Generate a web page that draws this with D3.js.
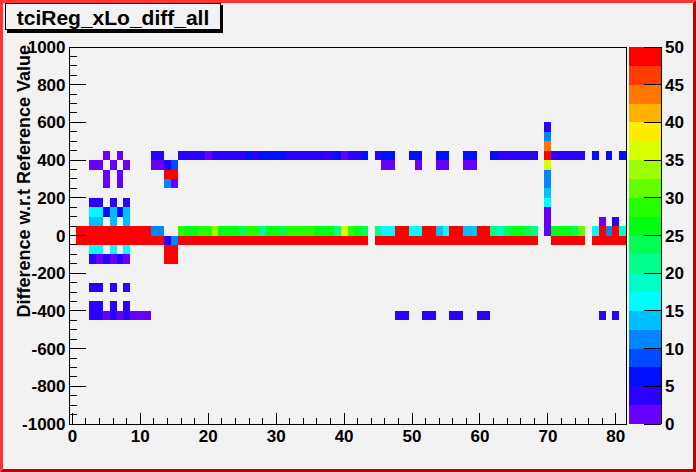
<!DOCTYPE html>
<html lang="en">
<meta charset="UTF-8">
<style>
    body{ margin:0; background:#f2f2f2; }
    text{
        font-family:"Liberation Sans",Arial,Helvetica,sans-serif;
        font-weight:bold;
        fill:#000;
    }
</style>
<body>
<div id="chart"></div>
<script src="https://cdn.jsdelivr.net/npm/d3@7"></script>
<script>
    var width = 696, height = 472;
    var frame = {left:69, right:626, top:47, bottom:424};

    var histTitle = "tciReg_xLo_diff_all";
    var yTitle = "Difference w.r.t Reference Value";

    // x bins are the integers 0..81, y bins are 50 wide
    var xRange = [-0.5, 81.5];
    var yRange = [-1000, 1000];
    var zRange = [0, 50];
    var yBin = 50;
    var xTicks = [0, 10, 20, 30, 40, 50, 60, 70, 80];
    var yTicks = [-1000, -800, -600, -400, -200, 0, 200, 400, 600, 800, 1000];
    var zTicks = [0, 5, 10, 15, 20, 25, 30, 35, 40, 45, 50];

    // [first x bin, last x bin, y bin low edge, content]
    var cells = [
        [70,70,550,4], [70,70,500,11], [70,70,450,44],
        // row 400
        [5,5,400,1], [7,7,400,1], [12,13,400,4], [16,19,400,4], [20,20,400,1],
        [21,25,400,4], [26,26,400,6], [27,27,400,4], [28,31,400,6], [32,38,400,4],
        [39,39,400,6], [40,40,400,1], [41,42,400,4], [43,43,400,6], [45,45,400,4],
        [46,47,400,6], [50,51,400,6], [54,55,400,6], [58,59,400,6], [62,62,400,6],
        [63,68,400,4], [70,70,400,49], [71,75,400,4], [77,77,400,6], [79,79,400,6],
        [81,81,400,6],
        // row 350
        [3,4,350,1], [6,6,350,1], [8,8,350,1], [12,13,350,1], [14,14,350,4],
        [15,15,350,9], [46,47,350,1], [51,51,350,1], [54,55,350,1], [58,59,350,1],
        [70,70,350,37],
        [5,5,300,1], [7,7,300,1], [14,15,300,49], [70,70,300,11],
        [5,5,250,1], [7,7,250,1], [14,14,250,11], [15,15,250,1], [70,70,250,11],
        [70,70,200,14],
        [3,4,150,4], [6,6,150,4], [8,8,150,4], [70,70,150,16],
        [3,4,100,16], [5,5,100,6], [6,6,100,14], [7,7,100,6], [8,8,100,14], [70,70,100,1],
        [3,4,50,14], [6,6,50,14], [8,8,50,14], [70,70,50,1], [78,78,50,1], [80,80,50,4],
        // row 0
        [1,11,0,49], [12,13,0,11], [16,16,0,29], [17,18,0,26], [19,20,0,29],
        [21,21,0,34], [22,24,0,26], [25,25,0,24], [26,27,0,29], [28,28,0,21],
        [29,30,0,26], [31,31,0,24], [32,35,0,29], [36,38,0,26], [39,39,0,21],
        [40,40,0,37], [41,41,0,29], [42,42,0,26], [43,43,0,24], [45,45,0,21],
        [46,47,0,16], [48,49,0,49], [50,51,0,16], [52,53,0,49], [54,54,0,14],
        [55,55,0,16], [56,57,0,49], [58,59,0,14], [60,61,0,49], [62,62,0,21],
        [63,63,0,19], [64,64,0,24], [65,66,0,26], [67,67,0,24], [68,68,0,21],
        [70,70,0,1], [71,73,0,26], [74,74,0,24], [75,75,0,31], [77,77,0,16],
        [78,78,0,49], [79,79,0,11], [80,80,0,49], [81,81,0,19],
        // row -50
        [1,13,-50,49], [14,14,-50,4], [15,15,-50,11], [16,43,-50,49], [45,68,-50,49],
        [71,75,-50,49], [77,81,-50,49],
        [3,4,-100,16], [6,6,-100,16], [8,8,-100,16], [14,15,-100,49],
        [3,3,-150,4], [4,4,-150,1], [5,5,-150,4], [6,6,-150,1], [7,7,-150,4],
        [8,8,-150,1], [14,15,-150,49],
        [3,4,-300,4], [6,6,-300,4], [8,8,-300,4],
        [3,4,-400,4], [6,6,-400,4], [8,8,-400,4],
        [3,4,-450,4], [5,5,-450,1], [6,6,-450,4], [7,7,-450,1], [8,8,-450,4],
        [9,11,-450,1], [48,49,-450,4], [52,53,-450,4], [56,57,-450,4], [60,61,-450,4],
        [78,78,-450,4], [80,80,-450,4]
    ];

    var svg = d3.select("#chart").append("svg")
        .attr("width", width)
        .attr("height", height);

    svg.append("rect")
        .attr("width", width).attr("height", height)
        .attr("fill", "#f2f2f2");

    var x = d3.scaleLinear().domain(xRange).range([frame.left, frame.right]);
    var y = d3.scaleLinear().domain(yRange).range([frame.bottom, frame.top]);

    // 20 contour colours, violet -> red like the ROOT rainbow palette
    var palette = d3.range(20).map(function(i){
        return d3.hsl(264*(1-i/19), 1, 0.5).formatHex();
    });
    var color = d3.scaleQuantize().domain(zRange).range(palette);

    // expand runs into single bins
    var bins = [];
    cells.forEach(function(c){
        for (var k = c[0]; k <= c[1]; k++) bins.push({x:k, y:c[2], z:c[3]});
    });

    svg.append("g")
        .selectAll("rect")
        .data(bins)
        .enter().append("rect")
        .attr("x", function(d){ return x(d.x-0.5); })
        .attr("width", function(d){ return x(d.x+0.5)-x(d.x-0.5); })
        .attr("y", function(d){ return y(d.y+yBin); })
        .attr("height", function(d){ return y(d.y)-y(d.y+yBin); })
        .attr("fill", function(d){ return color(d.z); })
        .attr("shape-rendering", "crispEdges");

    // frame
    svg.append("rect")
        .attr("x", frame.left).attr("y", frame.top)
        .attr("width", frame.right-frame.left)
        .attr("height", frame.bottom-frame.top)
        .attr("fill", "none").attr("stroke", "#000")
        .attr("shape-rendering", "crispEdges");

    // x axis, ticks pointing up into the frame
    var xMinor = d3.range(0, 82, 2);
    var xg = svg.append("g").attr("stroke", "#000").attr("shape-rendering", "crispEdges");
    xg.selectAll("line.minor").data(xMinor).enter().append("line")
        .attr("x1", x).attr("x2", x)
        .attr("y1", frame.bottom).attr("y2", frame.bottom-5.6);
    xg.selectAll("line.major").data(xTicks).enter().append("line")
        .attr("x1", x).attr("x2", x)
        .attr("y1", frame.bottom).attr("y2", frame.bottom-11.3);
    svg.selectAll("text.xlab").data(xTicks).enter().append("text")
        .attr("x", x).attr("y", 442)
        .attr("text-anchor", "middle")
        .style("font-size", "17px")
        .text(function(d){ return d; });

    // y axis, ticks pointing right
    var yMinor = d3.range(-1000, 1001, 50);
    var yg = svg.append("g").attr("stroke", "#000").attr("shape-rendering", "crispEdges");
    yg.selectAll("line.minor").data(yMinor).enter().append("line")
        .attr("y1", y).attr("y2", y)
        .attr("x1", frame.left).attr("x2", frame.left+8.4);
    yg.selectAll("line.major").data(yTicks).enter().append("line")
        .attr("y1", y).attr("y2", y)
        .attr("x1", frame.left).attr("x2", frame.left+16.7);
    svg.selectAll("text.ylab").data(yTicks).enter().append("text")
        .attr("x", 65.5).attr("y", function(d){ return y(d)+6; })
        .attr("text-anchor", "end")
        .style("font-size", "17px")
        .text(function(d){ return d; });

    svg.append("text")
        .attr("transform", "translate(30," + (frame.top-2) + ") rotate(-90)")
        .attr("text-anchor", "end")
        .style("font-size", "18px")
        .text(yTitle);

    // colour palette on the right
    var pal = {left:629, right:661};
    var z = d3.scaleLinear().domain(zRange).range([frame.bottom, frame.top]);
    var step = (zRange[1]-zRange[0])/palette.length;
    svg.append("g").selectAll("rect")
        .data(palette)
        .enter().append("rect")
        .attr("x", pal.left)
        .attr("width", pal.right-pal.left)
        .attr("y", function(d,i){ return z((i+1)*step); })
        .attr("height", function(d,i){ return z(i*step)-z((i+1)*step); })
        .attr("fill", function(d){ return d; })
        .attr("shape-rendering", "crispEdges");

    var zg = svg.append("g").attr("stroke", "#000").attr("shape-rendering", "crispEdges");
    zg.append("line")
        .attr("x1", pal.right).attr("x2", pal.right)
        .attr("y1", frame.top).attr("y2", frame.bottom);
    zg.selectAll("line.tick").data(zTicks).enter().append("line")
        .attr("y1", z).attr("y2", z)
        .attr("x1", pal.right).attr("x2", pal.right-16.7);
    svg.selectAll("text.zlab").data(zTicks).enter().append("text")
        .attr("x", 665).attr("y", function(d){ return z(d)+6; })
        .style("font-size", "17px")
        .text(function(d){ return d; });

    // title box with shadow
    svg.append("rect")
        .attr("x", 7).attr("y", 5).attr("width", 216).attr("height", 28)
        .attr("fill", "#000");
    svg.append("rect")
        .attr("x", 5.5).attr("y", 3.5).attr("width", 215).attr("height", 26)
        .attr("fill", "#f2f2f2").attr("stroke", "#000");
    svg.append("text")
        .attr("x", 113).attr("y", 25)
        .attr("text-anchor", "middle")
        .style("font-size", "21px")
        .text(histTitle);

    // canvas border, bevelled red
    var b = 3;
    svg.append("polygon")
        .attr("points", [[0,0],[width,0],[width-b,b],[b,b],[b,height-b],[0,height]].join(" "))
        .attr("fill", "#ff3333");
    svg.append("polygon")
        .attr("points", [[width,0],[width,height],[0,height],[b,height-b],[width-b,height-b],[width-b,b]].join(" "))
        .attr("fill", "#c00000");
</script>
</body>
</html>
